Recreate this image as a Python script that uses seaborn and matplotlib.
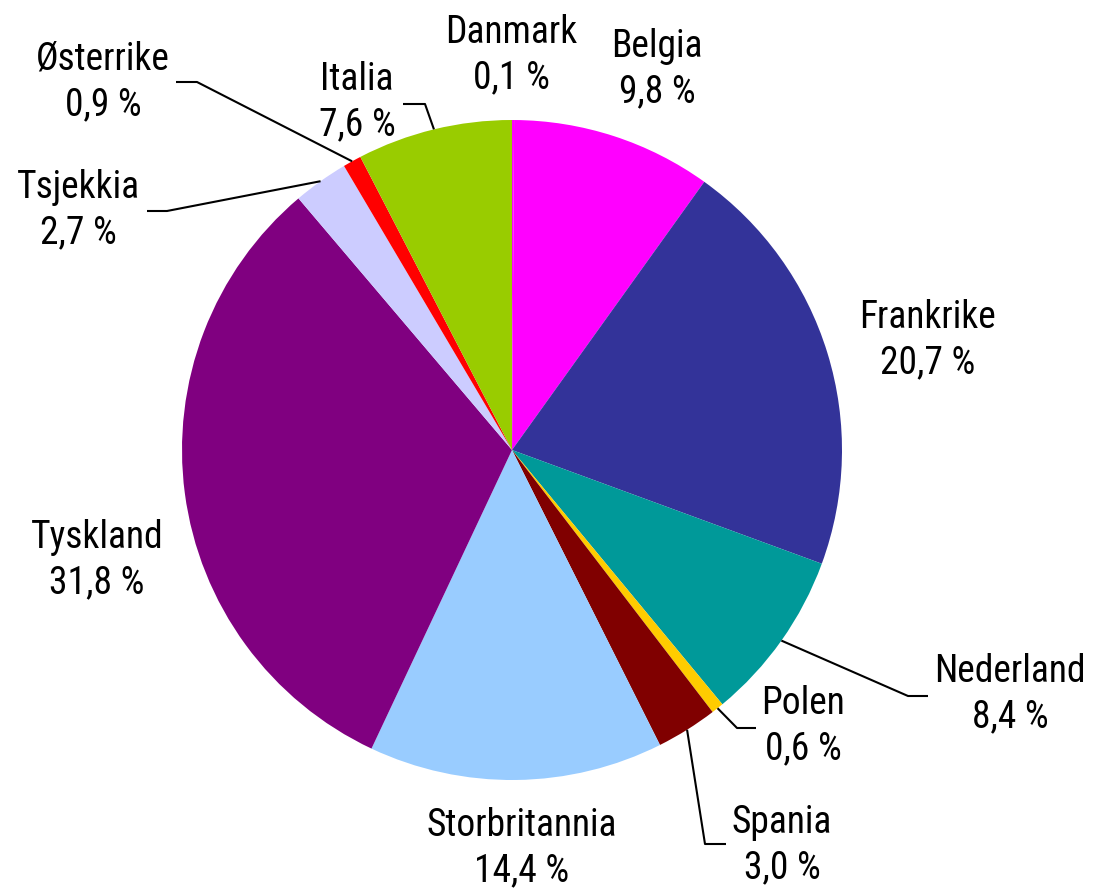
import numpy as np
import matplotlib
matplotlib.use("Agg")
import matplotlib.pyplot as plt
import seaborn as sns
from matplotlib import font_manager

# Data (clockwise from 12 o'clock)
countries = ["Danmark", "Belgia", "Frankrike", "Nederland", "Polen", "Spania",
             "Storbritannia", "Tyskland", "Tsjekkia", "Østerrike", "Italia"]
shares = [0.1, 9.8, 20.7, 8.4, 0.6, 3.0, 14.4, 31.8, 2.7, 0.9, 7.6]
colors = ["#FF00FF", "#FF00FF", "#333399", "#009999", "#FFCC00", "#800000",
          "#99CCFF", "#800080", "#CCCCFF", "#FF0000", "#99CC00"]

# Label layout in pixel coordinates (x, y from top): text centre, leader path
W, H = 1093, 888
label_pos = {
    "Danmark": (511, 55), "Belgia": (657, 69), "Frankrike": (928, 340),
    "Nederland": (1010, 694), "Polen": (803, 726), "Spania": (782, 845),
    "Storbritannia": (522, 848), "Tyskland": (97, 560), "Tsjekkia": (78, 210),
    "Østerrike": (103, 82), "Italia": (357, 102),
}
leaders = {
    "Østerrike": [(197, 82), (176, 82)],
    "Tsjekkia": [(167, 211), (147, 211)],
    "Italia": [(425, 104), (403, 104)],
    "Nederland": [(908, 696), (928, 696)],
    "Polen": [(737, 728), (756, 728)],
    "Spania": [(705, 844), (726, 844)],
}

sns.set_theme(style="white")
avail = {f.name for f in font_manager.fontManager.ttflist}
family = [f for f in ["Liberation Sans Narrow", "Roboto Condensed", "Liberation Sans", "DejaVu Sans"] if f in avail]
plt.rcParams["font.family"] = family

fig = plt.figure(figsize=(W / 100, H / 100), dpi=100)
ax = fig.add_axes([0, 0, 1, 1])

cx, cy, r = 512, H - 450, 330
wedges, _ = ax.pie(shares, colors=colors, startangle=90, counterclock=False,
                   center=(cx, cy), radius=r,
                   wedgeprops=dict(linewidth=0, antialiased=True))
ax.set_xlim(0, W)
ax.set_ylim(0, H)
ax.set_aspect("equal")
ax.axis("off")

for name, val, w in zip(countries, shares, wedges):
    tx, ty = label_pos[name]
    ax.text(tx, H - ty, f"{name}\n{val:.1f}".replace(".", ",") + " %",
            ha="center", va="center", fontsize=27, color="black",
            linespacing=1.28)
    if name in leaders:
        mid = np.deg2rad((w.theta1 + w.theta2) / 2)
        pts = [(cx + r * np.cos(mid), cy + r * np.sin(mid))]
        pts += [(x, H - y) for x, y in leaders[name]]
        xs, ys = zip(*pts)
        ax.plot(xs, ys, color="black", lw=1.5, solid_capstyle="butt")

fig.savefig("out.png", dpi=100, facecolor="white")
